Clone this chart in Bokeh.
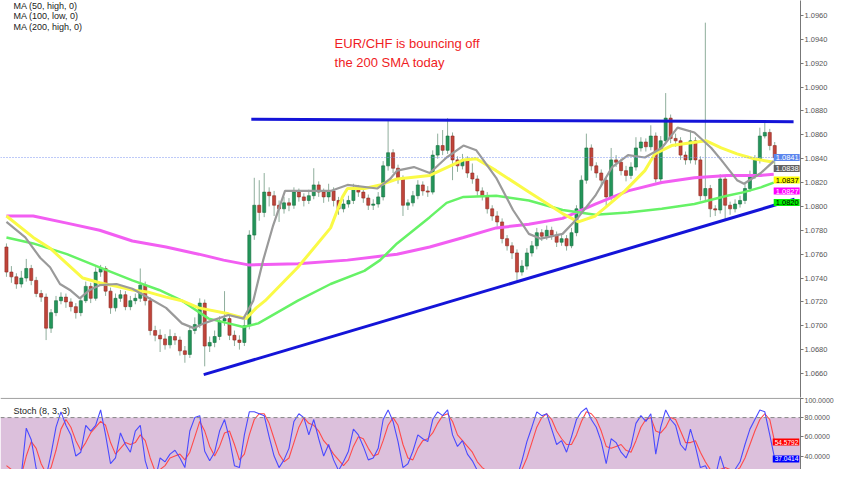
from bokeh.plotting import figure
from bokeh.models import (Range1d, Span, BoxAnnotation, Label, FixedTicker,
                          NumeralTickFormatter, ColumnDataSource, GridBox)
from bokeh.embed import file_html
from bokeh.resources import INLINE

# ---------------- data ----------------
first_open = 1.0766
closes = [1.0745, 1.0741, 1.0735, 1.0740, 1.0748, 1.0738, 1.0727, 1.0724, 1.0698, 1.0711,
          1.0721, 1.0724, 1.0720, 1.0716, 1.0711, 1.0721, 1.0733, 1.0723, 1.0745, 1.0748,
          1.0729, 1.0715, 1.0723, 1.0726, 1.0716, 1.0721, 1.0723, 1.0734, 1.0721, 1.0696,
          1.0692, 1.0689, 1.0684, 1.0691, 1.0688, 1.0679, 1.0676, 1.0696, 1.0701, 1.0719,
          1.0683, 1.0686, 1.0691, 1.0704, 1.0706, 1.0692, 1.0688, 1.0686, 1.0700, 1.0776,
          1.0801, 1.0795, 1.0812, 1.0809, 1.0801, 1.0798, 1.0803, 1.0801, 1.0812, 1.0808,
          1.0805, 1.0809, 1.0818, 1.0812, 1.0808, 1.0813, 1.0805, 1.0798, 1.0802, 1.0805,
          1.0815, 1.0812, 1.0807, 1.0801, 1.0802, 1.0808, 1.0834, 1.0845, 1.0832, 1.0823,
          1.0801, 1.0803, 1.0809, 1.0818, 1.0813, 1.0812, 1.0843, 1.0851, 1.0847, 1.0859,
          1.0839, 1.0834, 1.0839, 1.0828, 1.0823, 1.0813, 1.0809, 1.0798, 1.0792, 1.0787,
          1.0773, 1.0767, 1.0761, 1.0745, 1.0750, 1.0761, 1.0767, 1.0778, 1.0775, 1.0780,
          1.0776, 1.0770, 1.0773, 1.0767, 1.0778, 1.0798, 1.0822, 1.0849, 1.0834, 1.0828,
          1.0822, 1.0808, 1.0839, 1.0837, 1.0830, 1.0826, 1.0833, 1.0849, 1.0854, 1.0850,
          1.0859, 1.0823, 1.0855, 1.0874, 1.0857, 1.0855, 1.0843, 1.0839, 1.0855, 1.0839,
          1.0809, 1.0815, 1.0798, 1.0797, 1.0823, 1.0801, 1.0798, 1.0802, 1.0805, 1.0815,
          1.0826, 1.0839, 1.0859, 1.0862, 1.0851, 1.0841]
highs = [1.0769, 1.0750, 1.0744, 1.0746, 1.0756, 1.0751, 1.0741, 1.0730, 1.0727, 1.0714,
         1.0725, 1.0728, 1.0727, 1.0723, 1.0719, 1.0724, 1.0737, 1.0736, 1.0749, 1.0751,
         1.0750, 1.0732, 1.0727, 1.0730, 1.0729, 1.0725, 1.0727, 1.0748, 1.0737, 1.0724,
         1.0700, 1.0697, 1.0693, 1.0697, 1.0694, 1.0691, 1.0683, 1.0699, 1.0707, 1.0723,
         1.0722, 1.0691, 1.0696, 1.0708, 1.0729, 1.0710, 1.0696, 1.0692, 1.0706, 1.0780,
         1.0824, 1.0822, 1.0828, 1.0816, 1.0813, 1.0805, 1.0808, 1.0807, 1.0816, 1.0815,
         1.0811, 1.0814, 1.0832, 1.0821, 1.0815, 1.0819, 1.0816, 1.0808, 1.0806, 1.0809,
         1.0819, 1.0818, 1.0815, 1.0810, 1.0806, 1.0812, 1.0838, 1.0872, 1.0848, 1.0835,
         1.0826, 1.0806, 1.0813, 1.0822, 1.0821, 1.0817, 1.0847, 1.0861, 1.0864, 1.0874,
         1.0862, 1.0842, 1.0844, 1.0842, 1.0836, 1.0826, 1.0816, 1.0812, 1.0801, 1.0796,
         1.0790, 1.0776, 1.0770, 1.0764, 1.0755, 1.0765, 1.0771, 1.0782, 1.0781, 1.0784,
         1.0783, 1.0779, 1.0777, 1.0776, 1.0782, 1.0801, 1.0826, 1.0861, 1.0852, 1.0837,
         1.0831, 1.0825, 1.0849, 1.0843, 1.0840, 1.0834, 1.0837, 1.0858, 1.0858, 1.0857,
         1.0868, 1.0862, 1.0859, 1.0895, 1.0877, 1.0861, 1.0858, 1.0846, 1.0864, 1.0858,
         1.0842, 1.0954, 1.0818, 1.0801, 1.0827, 1.0826, 1.0804, 1.0806, 1.0809, 1.0819,
         1.0830, 1.0843, 1.0866, 1.0870, 1.0865, 1.0854]
lows = [1.0741, 1.0736, 1.0731, 1.0732, 1.0737, 1.0734, 1.0724, 1.0720, 1.0688, 1.0694,
        1.0708, 1.0718, 1.0715, 1.0712, 1.0706, 1.0708, 1.0719, 1.0719, 1.0721, 1.0741,
        1.0725, 1.0710, 1.0712, 1.0720, 1.0713, 1.0713, 1.0718, 1.0720, 1.0717, 1.0692,
        1.0687, 1.0678, 1.0680, 1.0681, 1.0684, 1.0675, 1.0669, 1.0673, 1.0693, 1.0698,
        1.0666, 1.0678, 1.0682, 1.0688, 1.0700, 1.0688, 1.0683, 1.0680, 1.0683, 1.0697,
        1.0772, 1.0788, 1.0791, 1.0800, 1.0792, 1.0787, 1.0794, 1.0796, 1.0798, 1.0804,
        1.0800, 1.0802, 1.0806, 1.0808, 1.0803, 1.0804, 1.0800, 1.0793, 1.0795, 1.0799,
        1.0802, 1.0808, 1.0803, 1.0797, 1.0797, 1.0799, 1.0805, 1.0830, 1.0828, 1.0819,
        1.0792, 1.0797, 1.0800, 1.0806, 1.0809, 1.0808, 1.0810, 1.0840, 1.0843, 1.0844,
        1.0822, 1.0829, 1.0831, 1.0824, 1.0819, 1.0809, 1.0805, 1.0794, 1.0788, 1.0783,
        1.0769, 1.0763, 1.0756, 1.0738, 1.0742, 1.0747, 1.0758, 1.0764, 1.0771, 1.0772,
        1.0772, 1.0766, 1.0767, 1.0763, 1.0765, 1.0775, 1.0795, 1.0819, 1.0830, 1.0824,
        1.0817, 1.0799, 1.0805, 1.0833, 1.0826, 1.0821, 1.0823, 1.0830, 1.0846, 1.0846,
        1.0847, 1.0820, 1.0820, 1.0852, 1.0853, 1.0850, 1.0839, 1.0835, 1.0836, 1.0835,
        1.0805, 1.0805, 1.0791, 1.0792, 1.0794, 1.0788, 1.0793, 1.0795, 1.0799, 1.0802,
        1.0812, 1.0823, 1.0836, 1.0857, 1.0847, 1.0832]
opens = [first_open] + closes[:-1]

# moving averages: (candle position, value)
ma_gray_x = [0, 3.8, 6.8, 8.8, 10.8, 12.8, 14.8, 16.8, 18.8, 22.2, 25.4, 28.8, 32.2, 35.4,
             37.8, 39.8, 44.8, 47.8, 49.8, 51.8, 53.8, 56.2, 58.8, 65.4, 68.8, 74.8, 77.4,
             78.8, 82.2, 85.4, 88.8, 92.2, 94.8, 98.8, 102.2, 105.4, 107.8, 112.2, 115.4,
             118.8, 122.2, 125.4, 128.8, 132.2, 135.4, 138.8, 142.2, 144.2, 147.4, 148.8,
             152.2, 154.8]
ma_gray = [1.0787, 1.0774, 1.0757, 1.0749, 1.0735, 1.0730, 1.0723, 1.0730, 1.0734, 1.0735,
           1.0731, 1.0723, 1.0715, 1.0702, 1.0698, 1.0702, 1.0709, 1.0706, 1.0721, 1.0755,
           1.0784, 1.0813, 1.0813, 1.0813, 1.0818, 1.0815, 1.0823, 1.0830, 1.0833, 1.0828,
           1.0841, 1.0851, 1.0847, 1.0824, 1.0797, 1.0777, 1.0773, 1.0777, 1.0791, 1.0809,
           1.0833, 1.0843, 1.0841, 1.0849, 1.0866, 1.0862, 1.0849, 1.0839, 1.0822, 1.0819,
           1.0828, 1.0838]
ma_yellow_x = [0, 5.4, 8.8, 12.2, 15.4, 18.8, 22.2, 25.4, 28.8, 32.2, 35.4, 38.8, 44.8, 48.4,
               50.4, 52.2, 58.8, 65.4, 67.8, 68.8, 72.2, 75.4, 78.8, 85.4, 92.2, 94.8, 98.8,
               105.4, 112.2, 115.4, 118.8, 120.8, 124.8, 128.8, 130.8, 134.2, 137.4, 141.2,
               144.2, 147.4, 150.8, 154.8]
ma_yellow = [1.0792, 1.0774, 1.0765, 1.0752, 1.0740, 1.0736, 1.0733, 1.0730, 1.0728, 1.0724,
             1.0721, 1.0715, 1.0710, 1.0706, 1.0715, 1.0721, 1.0749, 1.0782, 1.0808, 1.0815,
             1.0815, 1.0818, 1.0823, 1.0826, 1.0839, 1.0840, 1.0830, 1.0812, 1.0794, 1.0787,
             1.0792, 1.0799, 1.0813, 1.0830, 1.0844, 1.0851, 1.0853, 1.0855, 1.0849, 1.0844,
             1.0840, 1.0837]
ma_green_x = [0, 5.4, 12.2, 18.8, 25.4, 30.8, 35.4, 40.8, 44.8, 47.8, 50.8, 58.8, 65.4, 72.2,
              75.4, 78.8, 85.4, 88.8, 92.2, 98.8, 105.4, 112.2, 118.8, 125.4, 132.2, 138.8,
              145.4, 148.8, 152.2, 154.8]
ma_green = [1.0774, 1.0769, 1.0760, 1.0749, 1.0738, 1.0730, 1.0721, 1.0706, 1.0702, 1.0699,
            1.0702, 1.0721, 1.0735, 1.0746, 1.0755, 1.0769, 1.0791, 1.0803, 1.0808, 1.0809,
            1.0805, 1.0797, 1.0793, 1.0795, 1.0798, 1.0802, 1.0809, 1.0812, 1.0816, 1.0820]
ma_magenta_x = [0, 5.4, 12.2, 18.8, 25.4, 32.2, 38.8, 43.8, 48.8, 58.8, 68.8, 78.8, 85.4,
                92.2, 98.8, 105.4, 112.2, 118.8, 125.4, 132.2, 138.8, 145.4, 152.2, 154.8]
ma_magenta = [1.0792, 1.0792, 1.0786, 1.0780, 1.0771, 1.0766, 1.0760, 1.0755, 1.0751, 1.0752,
              1.0755, 1.0760, 1.0766, 1.0774, 1.0782, 1.0785, 1.0790, 1.0802, 1.0813, 1.0820,
              1.0824, 1.0826, 1.0826, 1.0827]

# trend lines
resist_x = [49.4, 158.8]
resist_y = [1.0873, 1.0871]
support_x = [39.8, 159.0]
support_y = [1.0659, 1.0806]

price_ticks = [1.0660, 1.0680, 1.0700, 1.0720, 1.0740, 1.0760, 1.0780, 1.0800, 1.0820,
               1.0840, 1.0860, 1.0880, 1.0900, 1.0920, 1.0940, 1.0960]

stoch_k = [25, 22, 18, 20, 69, 57, 27, 20, 18, 42, 70, 86, 72, 62, 40, 44, 72, 66, 72, 88,
           62, 32, 38, 64, 52, 44, 66, 72, 35, 18, 15, 38, 34, 42, 46, 38, 28, 66, 80, 82,
           45, 35, 44, 66, 78, 58, 30, 28, 62, 86, 86, 84, 82, 60, 40, 28, 36, 48, 76, 84,
           80, 62, 78, 58, 40, 52, 36, 25, 34, 45, 68, 62, 50, 36, 38, 48, 78, 88, 76, 55,
           28, 32, 45, 62, 58, 55, 78, 86, 82, 88, 62, 50, 56, 42, 35, 25, 24, 20, 22, 24,
           18, 20, 22, 18, 35, 55, 70, 86, 82, 84, 68, 52, 56, 44, 60, 78, 86, 90, 78, 70,
           55, 32, 58, 54, 44, 38, 50, 74, 82, 76, 84, 42, 70, 88, 78, 72, 52, 46, 68, 50,
           28, 30, 20, 18, 40, 24, 20, 26, 34, 52, 68, 78, 88, 86, 62, 37.0414]
stoch_d = [30, 26, 22, 20, 40, 55, 48, 32, 22, 28, 46, 68, 78, 70, 56, 46, 54, 64, 70, 76,
           72, 54, 42, 48, 54, 52, 54, 62, 56, 38, 24, 26, 30, 38, 40, 42, 36, 44, 60, 76,
           66, 50, 40, 50, 64, 66, 52, 36, 42, 62, 78, 84, 84, 74, 58, 42, 34, 38, 54, 70,
           80, 74, 72, 66, 56, 50, 42, 36, 30, 36, 50, 60, 58, 48, 40, 42, 56, 72, 80, 72,
           52, 38, 36, 48, 56, 58, 64, 74, 82, 84, 76, 62, 56, 50, 44, 34, 28, 24, 22, 22,
           21, 20, 20, 20, 26, 38, 54, 70, 80, 84, 78, 66, 58, 52, 52, 62, 76, 86, 84, 78,
           66, 50, 48, 50, 52, 46, 44, 56, 70, 78, 80, 66, 64, 70, 80, 78, 66, 54, 54, 56,
           44, 34, 26, 22, 26, 28, 26, 24, 28, 38, 52, 66, 78, 84, 78, 54.5792]
stoch_ticks = [20, 40, 60, 80, 100]

# ---------------- layout constants ----------------
W = 836
H = 469
MAIN_H = 397
STO_H = H - MAIN_H
FRAME_W = 807
AXIS_W = W - FRAME_W
PX = 5.0                      # pixels per candle
X0 = -1.2
X1 = X0 + FRAME_W / PX
P_TOP, P_BOT = 1.097257, 1.063988
S_TOP, S_BOT = 100.9, 26.0
FONT = "Liberation Sans"


def price_at(fig_y):
    return P_TOP - fig_y * (P_TOP - P_BOT) / MAIN_H


def stoch_at(fig_y):
    return S_TOP - fig_y * (S_TOP - S_BOT) / STO_H


def stoch_px(v):
    return MAIN_H + (S_TOP - v) * STO_H / (S_TOP - S_BOT)


def xpos(fig_x):
    return X0 + fig_x / PX


idx = list(range(len(closes)))
up = [c >= o for o, c in zip(opens, closes)]
src = ColumnDataSource(dict(
    x=idx, o=opens, c=closes, h=highs, l=lows,
    top=[max(o, c) for o, c in zip(opens, closes)],
    bot=[min(o, c) for o, c in zip(opens, closes)],
    fill=["#23955a" if u else "#c0443a" for u in up],
    edge=["#17703f" if u else "#8e2a22" for u in up],
))


def style_axis(ax, ticks):
    ax.ticker = FixedTicker(ticks=ticks)
    ax.formatter = NumeralTickFormatter(format="0.0000")
    ax.major_label_text_font = FONT
    ax.major_label_text_font_size = "7.5px"
    ax.major_label_text_color = "#555555"
    ax.axis_line_color = "#777777"
    ax.major_tick_line_color = "#777777"
    ax.major_tick_out = 3
    ax.major_tick_in = 0
    ax.minor_tick_line_color = None
    ax.major_label_standoff = 1


# ---------------- main price panel ----------------
p = figure(width=W, height=MAIN_H, output_backend="svg", toolbar_location=None,
           x_range=Range1d(X0, X1), y_range=Range1d(P_BOT, P_TOP),
           y_axis_location="right", x_axis_location=None,
           min_border_left=0, min_border_right=AXIS_W, min_border_top=0, min_border_bottom=0)
p.outline_line_color = None
p.xgrid.visible = False
p.ygrid.visible = False
style_axis(p.yaxis[0], price_ticks)

p.segment(x0="x", y0="h", x1="x", y1="l", source=src, line_color="#8fae9c", line_width=1)
p.vbar(x="x", width=0.62, top="top", bottom="bot", source=src,
       fill_color="fill", line_color="edge", line_width=0.6)

p.line(ma_magenta_x, ma_magenta, line_color="#f25ef2", line_width=3)
p.line(ma_green_x, ma_green, line_color="#66f266", line_width=2.5)
p.line(ma_yellow_x, ma_yellow, line_color="#fafa46", line_width=3)
p.line(ma_gray_x, ma_gray, line_color="#9a9a9a", line_width=2.2)

p.line(resist_x, resist_y, line_color="#1414d8", line_width=3)
p.line(support_x, support_y, line_color="#1414d8", line_width=3)

p.add_layout(Span(location=closes[-1], dimension="width", line_color="#7d95f0",
                  line_dash="1 2", line_width=1))

for i, t in enumerate(["MA (50, high, 0)", "MA (100, low, 0)", "MA (200, high, 0)"]):
    p.add_layout(Label(x=xpos(13), y=price_at(5 + 10.5 * i), text=t, text_font=FONT,
                       text_font_size="9px", text_color="#222222", text_baseline="middle"))

for i, t in enumerate(["EUR/CHF is bouncing off", "the 200 SMA today"]):
    p.add_layout(Label(x=xpos(337), y=price_at(43 + 19 * i), text=t, text_font=FONT,
                       text_font_size="13px", text_color="#f01c24",
                       text_baseline="alphabetic"))

# ---------------- stochastic panel ----------------
s = figure(width=W, height=STO_H, output_backend="svg", toolbar_location=None,
           x_range=p.x_range, y_range=Range1d(S_BOT, S_TOP),
           y_axis_location="right", x_axis_location=None,
           min_border_left=0, min_border_right=AXIS_W, min_border_top=0, min_border_bottom=0)
s.outline_line_color = None
s.xgrid.visible = False
s.ygrid.visible = False
style_axis(s.yaxis[0], stoch_ticks)
s.yaxis[0].major_label_text_font_size = "7px"

s.add_layout(BoxAnnotation(bottom=20, top=80, fill_color="#dcc0dc", fill_alpha=1.0,
                           line_color=None, level="underlay"))
s.add_layout(Span(location=80, dimension="width", line_color="#888888",
                  line_dash="4 3", line_width=1))
s.add_layout(Span(location=100, dimension="width", line_color="#999999", line_width=1))
s.line(idx, stoch_d, line_color="#ff4a4a", line_width=1.1)
s.line(idx, stoch_k, line_color="#4a4aff", line_width=1.1)

s.add_layout(Label(x=xpos(13), y=stoch_at(13), text="Stoch (8, 3, 3)", text_font=FONT,
                   text_font_size="9px", text_color="#222222", text_baseline="middle"))

# ---------------- transparent overlay for the value boxes on the axis ----------------
ov = figure(width=W, height=H, output_backend="svg", toolbar_location=None,
            x_range=Range1d(0, W), y_range=Range1d(H, 0),
            x_axis_location=None, y_axis_location=None,
            min_border_left=0, min_border_right=0, min_border_top=0, min_border_bottom=0)
ov.outline_line_color = None
ov.background_fill_color = None
ov.border_fill_color = None
ov.xgrid.visible = False
ov.ygrid.visible = False

boxes = [(closes[-1], "#5b86ee", "white", 157, "7.5px", FRAME_W + 1),
         (ma_gray[-1], "#626262", "white", 168, "7.5px", FRAME_W + 1),
         (ma_yellow[-1], "#ffff00", "black", 179.5, "7.5px", FRAME_W + 1),
         (ma_magenta[-1], "#ff00ff", "white", 190.5, "7.5px", FRAME_W + 1),
         (ma_green[-1], "#00f000", "black", 202, "7.5px", FRAME_W + 1),
         (stoch_d[-1], "#ff0000", "white", stoch_px(stoch_d[-1]), "6.5px", FRAME_W),
         (stoch_k[-1], "#0000ff", "white", stoch_px(stoch_k[-1]), "6.5px", FRAME_W)]
for v, bg, fg, fy, fs, bx in boxes:
    ov.add_layout(Label(x=bx, y=fy, text=f"{v:.4f}", text_font=FONT,
                        text_font_size=fs, text_color=fg, text_baseline="middle",
                        background_fill_color=bg,
                        padding=dict(left=2, right=1, top=1, bottom=1)))

grid = GridBox(children=[(p, 0, 0), (s, 1, 0), (ov, 0, 0, 2, 1)], spacing=0)
open("out.html", "w").write(file_html(grid, INLINE))
